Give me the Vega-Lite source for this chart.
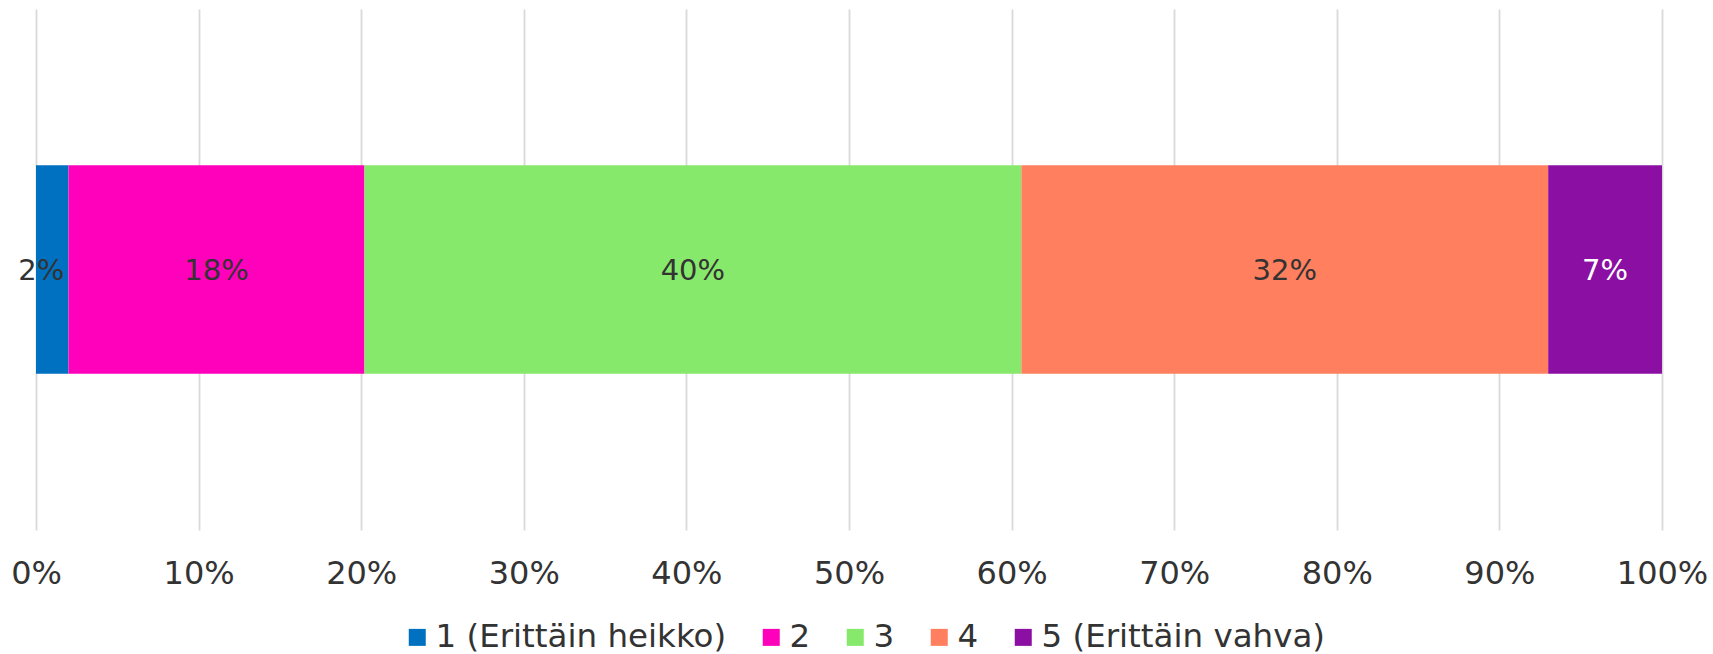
{
  "$schema": "https://vega.github.io/schema/vega-lite/v6.json",
  "autosize": "none",
  "width": 1626,
  "height": 521,
  "padding": {"left": 36, "top": 9, "right": 51, "bottom": 124},
  "background": "white",
  "config": {
    "view": {"stroke": null},
    "font": "DejaVu Sans"
  },
  "data": {
    "values": [
      {"k": 1, "cat": "1 (Erittäin heikko)", "q": "A", "v": 0.020},
      {"k": 2, "cat": "2", "q": "A", "v": 0.182},
      {"k": 3, "cat": "3", "q": "A", "v": 0.404},
      {"k": 4, "cat": "4", "q": "A", "v": 0.324},
      {"k": 5, "cat": "5 (Erittäin vahva)", "q": "A", "v": 0.070}
    ]
  },
  "transform": [
    {"stack": "v", "groupby": ["q"], "sort": [{"field": "k"}], "as": ["v0", "v1"]}
  ],
  "encoding": {
    "y": {"field": "q", "type": "nominal", "axis": null, "scale": {"paddingInner": 0.6, "paddingOuter": 0.3}}
  },
  "layer": [
    {
      "mark": {"type": "bar"},
      "encoding": {
        "x": {"field": "v0", "type": "quantitative", "scale": {"domain": [0, 1], "nice": false},
          "axis": {"values": [0, 0.1, 0.2, 0.3, 0.4, 0.5, 0.6, 0.7, 0.8, 0.9, 1], "format": ".0%", "title": null,
            "domain": false, "ticks": false, "grid": true, "gridColor": "#d9d9d9", "gridWidth": 1.8,
            "labelFontSize": 32, "labelColor": "#333333", "labelPadding": 28, "labelFont": "DejaVu Sans", "labelFlush": false}},
        "x2": {"field": "v1"},
        "color": {"field": "cat", "type": "nominal",
          "scale": {"domain": ["1 (Erittäin heikko)", "2", "3", "4", "5 (Erittäin vahva)"],
                    "range": ["#0070C0", "#FF00BB", "#87E96B", "#FF7F5E", "#8B0FA3"]},
          "sort": ["1 (Erittäin heikko)", "2", "3", "4", "5 (Erittäin vahva)"],
          "legend": {"orient": "none", "legendX": 365, "legendY": 612, "direction": "horizontal", "title": null, "symbolType": "square",
            "symbolSize": 289, "symbolStrokeWidth": 0, "symbolOpacity": 1, "labelFontSize": 32.5, "labelColor": "#333333",
            "labelFont": "DejaVu Sans", "columnPadding": 28, "labelOffset": 2, "labelLimit": 400}}
      }
    },
    {
      "transform": [
        {"filter": "datum.k != 1"},
        {"fold": ["v0", "v1"], "as": ["edge", "pos"]},
        {"aggregate": [{"op": "mean", "field": "pos", "as": "mid"}], "groupby": ["k", "q", "v"]}
      ],
      "mark": {"type": "text", "fontSize": 29, "baseline": "middle", "align": "center", "font": "DejaVu Sans", "dy": 1},
      "encoding": {
        "x": {"field": "mid", "type": "quantitative"},
        "text": {"field": "v", "type": "quantitative", "format": ".0%"},
        "color": {"condition": {"test": "datum.k == 5", "value": "#ffffff"}, "value": "#333333"}
      }
    },
    {
      "transform": [
        {"filter": "datum.k == 1"},
        {"fold": ["v0", "v1"], "as": ["edge", "pos"]},
        {"aggregate": [{"op": "mean", "field": "pos", "as": "mid"}], "groupby": ["k", "q", "v"]}
      ],
      "mark": {"type": "text", "fontSize": 29, "baseline": "middle", "align": "center", "font": "DejaVu Sans", "dy": 1, "dx": -11, "color": "#333333"},
      "encoding": {
        "x": {"field": "mid", "type": "quantitative"},
        "text": {"field": "v", "type": "quantitative", "format": ".0%"}
      }
    }
  ]
}
